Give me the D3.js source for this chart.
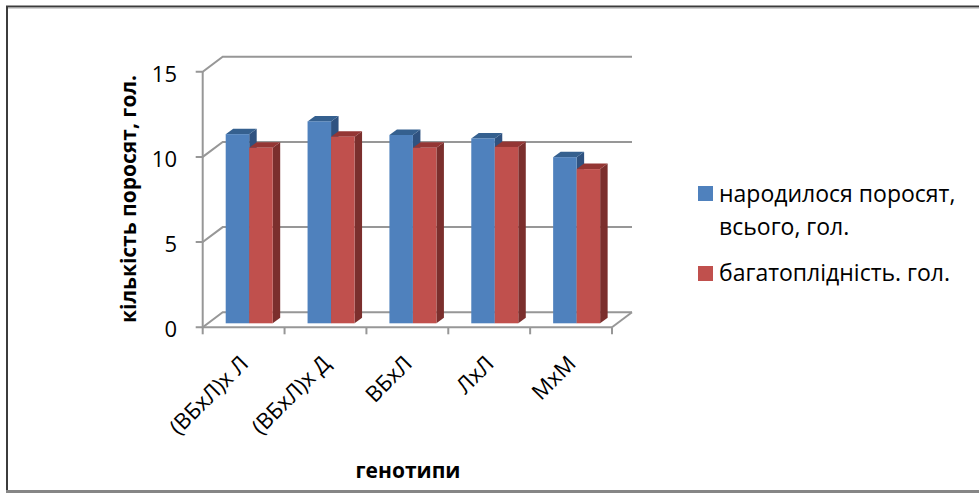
<!DOCTYPE html>
<html>
<head>
<meta charset="utf-8">
<script src="https://cdn.jsdelivr.net/npm/d3@7"></script>
<style>
html, body { margin: 0; padding: 0; background: #fff; overflow: hidden; }
text { font-family: "Open Sans", "Noto Sans", sans-serif; fill: #000; }
</style>
</head>
<body>
<div id="chart"></div>
<script>
const categories = ["(ВБхЛ)х Л", "(ВБхЛ)х Д", "ВБхЛ", "ЛхЛ", "МхМ"];
const seriesNames = ["народилося поросят, всього, гол.", "багатоплідність. гол."];
const born = [11.1, 11.85, 11.05, 10.85, 9.75];
const prolificacy = [10.3, 10.95, 10.3, 10.35, 9.05];
const yTicks = [0, 5, 10, 15];

const width = 979, height = 493;
const depthX = 20, depthY = 15;      // wall / floor offset
const barDepthX = 7.5, barDepthY = 5.5;
const colors = [
  {front: "#4f81bd", top: "#35608f", side: "#2f5280"},
  {front: "#c0504d", top: "#943634", side: "#7b2f2d"}
];

const svg = d3.select("#chart").append("svg")
  .attr("width", width)
  .attr("height", height)
  .style("display", "block");

// frame: no right edge, the picture is cut there
svg.append("line").attr("x1", 6).attr("x2", width).attr("y1", 6.5).attr("y2", 6.5)
  .attr("stroke", "#3c3c3c").attr("stroke-width", 2);
svg.append("line").attr("x1", 6).attr("x2", width).attr("y1", 8).attr("y2", 8)
  .attr("stroke", "#a8a8a8").attr("stroke-width", 1);
svg.append("line").attr("x1", 7).attr("x2", 7).attr("y1", 6).attr("y2", 491)
  .attr("stroke", "#3c3c3c").attr("stroke-width", 2);
svg.append("line").attr("x1", 6).attr("x2", width).attr("y1", 491.5).attr("y2", 491.5)
  .attr("stroke", "#868686").attr("stroke-width", 3);

const x = d3.scaleBand().domain(categories).range([202.7, 612]);
const y = d3.scaleLinear().domain([0, 15]).range([327.3, 71.7]);
const grey = "#979797";

// gridlines on wall + side wall
yTicks.forEach(t => {
  svg.append("polyline")
    .attr("points", [[x.range()[0] - 7, y(t)], [x.range()[0], y(t)],
      [x.range()[0] + depthX, y(t) - depthY], [x.range()[1] + depthX, y(t) - depthY]].join(" "))
    .attr("fill", "none").attr("stroke", grey).attr("stroke-width", 2);
});

// axes
svg.append("line")
  .attr("x1", x.range()[0]).attr("x2", x.range()[0])
  .attr("y1", y(15)).attr("y2", y(0))
  .attr("stroke", grey).attr("stroke-width", 2);
svg.append("line")
  .attr("x1", x.range()[0]).attr("x2", x.range()[1])
  .attr("y1", y(0)).attr("y2", y(0))
  .attr("stroke", grey).attr("stroke-width", 2);
svg.append("line")
  .attr("x1", x.range()[1]).attr("x2", x.range()[1] + depthX)
  .attr("y1", y(0)).attr("y2", y(0) - depthY)
  .attr("stroke", grey).attr("stroke-width", 2);

// category ticks
categories.concat([null]).forEach((c, i) => {
  const px = x.range()[0] + i * x.bandwidth();
  svg.append("line")
    .attr("x1", px).attr("x2", px)
    .attr("y1", y(0)).attr("y2", y(0) + 7)
    .attr("stroke", grey).attr("stroke-width", 2);
});

// bars
const barW = 23.5, barStart = 23, barBase = 4;
[born, prolificacy].forEach((values, s) => {
  const c = colors[s];
  const g = svg.append("g");
  g.selectAll("g.bar").data(values).enter().append("g").each(function (v, i) {
    const bx = x(categories[i]) + barStart + s * barW;
    const top = y(v) - barBase;
    const bot = y(0) - barBase;
    const b = d3.select(this);
    b.append("polygon")
      .attr("points", [[bx + barW, top], [bx + barW + barDepthX, top - barDepthY],
        [bx + barW + barDepthX, bot - barDepthY], [bx + barW, bot]].join(" "))
      .attr("fill", c.side);
    b.append("polygon")
      .attr("points", [[bx, top], [bx + barDepthX, top - barDepthY],
        [bx + barW + barDepthX, top - barDepthY], [bx + barW, top]].join(" "))
      .attr("fill", c.top);
    b.append("rect")
      .attr("x", bx).attr("y", top)
      .attr("width", barW).attr("height", bot - top)
      .attr("fill", c.front);
  });
});

// y tick labels
svg.selectAll("text.ytick").data(yTicks).enter().append("text")
  .attr("class", "ytick")
  .attr("x", 177).attr("y", d => y(d) + 10)
  .attr("text-anchor", "end")
  .style("font-size", "22px")
  .text(d => d);

// category labels
svg.selectAll("text.xcat").data(categories).enter().append("text")
  .attr("class", "xcat")
  .attr("transform", d => `translate(${x(d) + 47},${365}) rotate(-45)`)
  .attr("text-anchor", "end")
  .style("font-size", "22px")
  .text(d => d);

// axis titles
svg.append("text")
  .attr("transform", "translate(136,199) rotate(-90)")
  .attr("text-anchor", "middle")
  .style("font-size", "21px").style("font-weight", "bold")
  .text("кількість поросят, гол.");
svg.append("text")
  .attr("x", 408).attr("y", 478)
  .attr("text-anchor", "middle")
  .style("font-size", "21px").style("font-weight", "bold")
  .text("генотипи");

// legend
const legend = svg.append("g");
legend.append("rect").attr("x", 698).attr("y", 186).attr("width", 15).attr("height", 15).attr("fill", colors[0].front);
legend.append("rect").attr("x", 698).attr("y", 266).attr("width", 15).attr("height", 15).attr("fill", colors[1].front);
legend.append("text").attr("x", 719).attr("y", 202).style("font-size", "23px").text("народилося поросят,");
legend.append("text").attr("x", 719).attr("y", 235).style("font-size", "23px").text("всього, гол.");
legend.append("text").attr("x", 719).attr("y", 281).style("font-size", "23px").text(seriesNames[1]);
</script>
</body>
</html>
